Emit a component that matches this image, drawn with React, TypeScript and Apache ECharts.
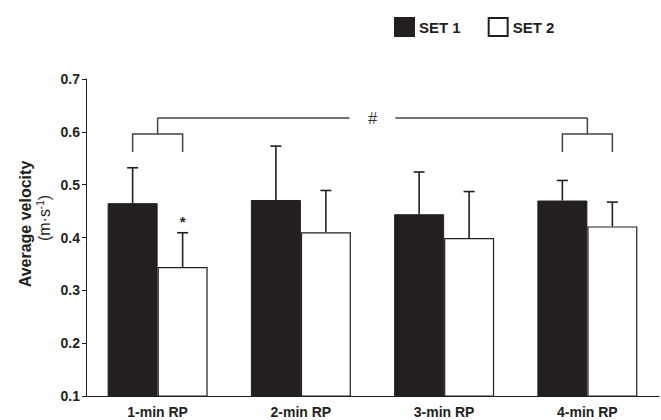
import React, { useEffect, useRef } from "react";
import * as echarts from "echarts";

const categories = ["1-min RP", "2-min RP", "3-min RP", "4-min RP"];
const seriesNames = ["SET 1", "SET 2"];
const set1Mean = [0.465, 0.471, 0.444, 0.47];
const set1Sd = [0.067, 0.102, 0.08, 0.038];
const set2Mean = [0.344, 0.41, 0.399, 0.421];
const set2Sd = [0.065, 0.079, 0.088, 0.046];
const yTicks = { min: 0.1, max: 0.7, interval: 0.1 };
const bracketGroups = [0, 3];
const bracketMark = "#";
const starMarks = [{ category: 0, series: 1, text: "*" }];

const DARK = "#231f20";
const BAR_W = 50;
const FONT = "Liberation Sans, Arial, Helvetica, sans-serif";

function errorRenderer(sign: number) {
  return (params: any, api: any) => {
    const idx = api.value(0);
    const mean = api.value(1);
    const sd = api.value(2);
    const p0 = api.coord([idx, mean]);
    const p1 = api.coord([idx, mean + sd]);
    const x = p0[0] + (sign * BAR_W) / 2;
    return {
      type: "group",
      children: [
        {
          type: "line",
          shape: { x1: x, y1: p0[1], x2: x, y2: p1[1] },
          style: { stroke: DARK, lineWidth: 1.6 },
        },
        {
          type: "line",
          shape: { x1: x - 5.5, y1: p1[1], x2: x + 5.5, y2: p1[1] },
          style: { stroke: DARK, lineWidth: 1.6 },
        },
      ],
    };
  };
}

export default function App() {
  const ref = useRef<HTMLDivElement>(null);
  useEffect(() => {
    if (!ref.current) return;
    const chart = echarts.init(ref.current, null, { renderer: "svg" });

    const annotRender = (params: any, api: any) => {
      const top = params.coordSys.y;
      const cx = (i: number, s: number) => api.coord([i, yTicks.min])[0] + (s === 0 ? -BAR_W / 2 : BAR_W / 2);
      const mainY = top + 39;
      const subY = top + 55;
      const footY = top + 73;
      const children: any[] = [];
      const stroke = { stroke: "#444", lineWidth: 1.5, fill: null };
      const mids: number[] = [];
      bracketGroups.forEach((g) => {
        const a = cx(g, 0);
        const b = cx(g, 1);
        const m = (a + b) / 2;
        mids.push(m);
        children.push({
          type: "polyline",
          shape: { points: [[a, footY], [a, subY], [b, subY], [b, footY]] },
          style: stroke,
        });
        children.push({
          type: "line",
          shape: { x1: m, y1: subY, x2: m, y2: mainY },
          style: stroke,
        });
      });
      const center = (mids[0] + mids[1]) / 2;
      children.push({ type: "line", shape: { x1: mids[0], y1: mainY, x2: center - 23, y2: mainY }, style: stroke });
      children.push({ type: "line", shape: { x1: center + 23, y1: mainY, x2: mids[1], y2: mainY }, style: stroke });
      children.push({
        type: "text",
        style: {
          text: bracketMark,
          x: center,
          y: mainY,
          align: "center",
          verticalAlign: "middle",
          font: `italic 16px ${FONT}`,
          fill: "#333",
        },
      });
      starMarks.forEach((s) => {
        const mean = s.series === 0 ? set1Mean[s.category] : set2Mean[s.category];
        const sd = s.series === 0 ? set1Sd[s.category] : set2Sd[s.category];
        const p = api.coord([s.category, mean + sd]);
        children.push({
          type: "text",
          style: {
            text: s.text,
            x: cx(s.category, s.series),
            y: p[1] - 11,
            align: "center",
            verticalAlign: "middle",
            font: `bold 15px ${FONT}`,
            fill: DARK,
          },
        });
      });
      return { type: "group", children };
    };

    chart.setOption({
      animation: false,
      backgroundColor: "#ffffff",
      textStyle: { fontFamily: FONT },
      legend: {
        data: seriesNames,
        left: 389,
        top: 12,
        icon: "rect",
        itemWidth: 19,
        itemHeight: 18,
        itemGap: 27,
        textStyle: { fontWeight: "bold", fontSize: 15, color: DARK, fontFamily: FONT },
      },
      grid: { left: 86, right: 2, top: 79, bottom: 24 },
      xAxis: {
        type: "category",
        data: categories,
        axisLine: { lineStyle: { color: DARK, width: 1 } },
        axisTick: { length: 3, lineStyle: { color: DARK } },
        axisLabel: { fontWeight: "bold", fontSize: 14, color: DARK, margin: 9, fontFamily: FONT },
      },
      yAxis: {
        type: "value",
        min: yTicks.min,
        max: yTicks.max,
        interval: yTicks.interval,
        splitLine: { show: false },
        axisLine: { show: true, lineStyle: { color: DARK, width: 1 } },
        axisTick: { show: true, length: 4, lineStyle: { color: DARK } },
        axisLabel: {
          fontWeight: "bold",
          fontSize: 14,
          color: DARK,
          margin: 6,
          fontFamily: FONT,
          formatter: (v: number) => v.toFixed(1),
        },
      },
      graphic: [
        {
          type: "text",
          x: 25,
          y: 224,
          rotation: Math.PI / 2,
          style: {
            text: "Average velocity",
            align: "center",
            verticalAlign: "middle",
            font: `bold 16px ${FONT}`,
            fill: DARK,
          },
        },
        {
          type: "text",
          x: 44,
          y: 218,
          rotation: Math.PI / 2,
          style: {
            text: "(m·s{sup|-1})",
            align: "center",
            verticalAlign: "middle",
            font: `16px ${FONT}`,
            fill: DARK,
            rich: { sup: { fontSize: 10, verticalAlign: "top", padding: [0, 0, 7, 0], fontFamily: FONT, fill: DARK } },
          },
        },
      ],
      series: [
        {
          name: seriesNames[0],
          type: "bar",
          data: set1Mean,
          barWidth: BAR_W,
          barGap: "0%",
          itemStyle: { color: DARK, borderColor: DARK, borderWidth: 1 },
        },
        {
          name: seriesNames[1],
          type: "bar",
          data: set2Mean,
          barWidth: BAR_W,
          barGap: "0%",
          itemStyle: { color: "#ffffff", borderColor: DARK, borderWidth: 1.2 },
        },
        {
          type: "custom",
          renderItem: errorRenderer(-1),
          data: set1Mean.map((m, i) => [i, m, set1Sd[i]]),
          encode: { x: 0, y: 1 },
          z: 5,
          silent: true,
        },
        {
          type: "custom",
          renderItem: errorRenderer(1),
          data: set2Mean.map((m, i) => [i, m, set2Sd[i]]),
          encode: { x: 0, y: 1 },
          z: 5,
          silent: true,
        },
        {
          type: "custom",
          renderItem: annotRender,
          data: [[0, yTicks.min]],
          encode: { x: 0, y: 1 },
          z: 6,
          silent: true,
        },
      ],
    });
    return () => chart.dispose();
  }, []);
  return (
    <div
      ref={ref}
      style={{ position: "fixed", left: 0, top: 0, width: 661, height: 420, background: "#fff" }}
    />
  );
}
